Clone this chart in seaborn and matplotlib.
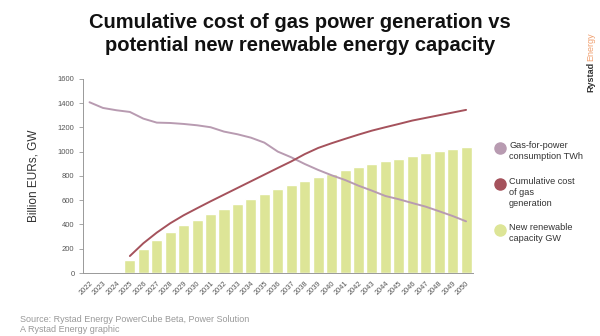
import numpy as np
import pandas as pd
import matplotlib
matplotlib.use("Agg")
import matplotlib.pyplot as plt
from matplotlib.lines import Line2D
import seaborn as sns

years = [str(y) for y in range(2022, 2051)]
renewable_gw = [np.nan, np.nan, np.nan, 110, 198, 272, 338, 393, 434, 484, 525, 569, 610, 649,
                690, 726, 759, 790, 819, 850, 877, 899, 926, 943, 968, 990, 1006, 1023, 1040]
gas_twh = [1408, 1361, 1342, 1328, 1273, 1240, 1237, 1229, 1218, 1202, 1166, 1144, 1116, 1075,
           1001, 954, 899, 850, 806, 767, 720, 679, 635, 608, 577, 547, 509, 470, 426]
cum_cost = [np.nan, np.nan, np.nan, 140, 245, 333, 410, 476, 534, 591, 646, 701, 756, 811,
            866, 920, 980, 1031, 1070, 1106, 1141, 1174, 1202, 1229, 1257, 1279, 1301, 1323, 1345]
y_ticks = [0, 200, 400, 600, 800, 1000, 1200, 1400, 1600]

c_bar = "#dde597"
c_gas = "#b89bb1"
c_cost = "#a5525c"
c_txt = "#555555"

df = pd.DataFrame({"year": years, "renewable": renewable_gw, "gas": gas_twh, "cost": cum_cost})
df["pos"] = np.arange(len(years))

sns.set_theme(style="white")
plt.rcParams["font.family"] = ["Liberation Sans", "DejaVu Sans"]

fig = plt.figure(figsize=(6, 3.36), dpi=100)
ax = fig.add_axes([0.138, 0.1875, 0.650, 0.5775])

sns.barplot(data=df, x="pos", y="renewable", color=c_bar, width=0.82, ax=ax,
            native_scale=True, saturation=1)
sns.lineplot(data=df, x="pos", y="gas", color=c_gas, lw=1.4, ax=ax)
sns.lineplot(data=df, x="pos", y="cost", color=c_cost, lw=1.4, ax=ax)

ax.set_xlim(-0.5, len(years) - 0.5)
ax.set_ylim(0, 1600)
ax.set_yticks(y_ticks)
ax.set_yticklabels([str(t) for t in y_ticks], fontsize=5.5, color=c_txt)
ax.set_xticks(df["pos"])
ax.set_xticklabels(years, rotation=45, fontsize=5.3, color=c_txt, ha="right",
                   rotation_mode="anchor")
ax.set_xticks(np.arange(len(years) + 1) - 0.5, minor=True)
ax.tick_params(axis="x", which="major", length=0, pad=5)
ax.tick_params(axis="x", which="minor", length=3, width=0.6, color="#999999", direction="out")
ax.tick_params(axis="y", which="major", length=3, width=0.6, color="#999999", direction="out", left=True, pad=3)
ax.set_xlabel("")
ax.set_ylabel("Billion EURs, GW", fontsize=8.5, color="#333333", labelpad=13)
for s in ["top", "right"]:
    ax.spines[s].set_visible(False)
for s in ["left", "bottom"]:
    ax.spines[s].set_color("#999999")
    ax.spines[s].set_linewidth(0.7)

fig.text(0.5, 1 - 34 / 336, "Cumulative cost of gas power generation vs\npotential new renewable energy capacity",
         ha="center", va="center", fontsize=14.5, fontweight="bold", color="#111111",
         linespacing=1.25)

legend_items = [(c_gas, "Gas-for-power\nconsumption TWh", 148),
                (c_cost, "Cumulative cost\nof gas\ngeneration", 184),
                (c_bar, "New renewable\ncapacity GW", 230)]
for col, lab, ypx in legend_items:
    yf = 1 - ypx / 336
    fig.add_artist(Line2D([500 / 600], [yf], marker="o", markersize=8, color=col,
                          linestyle="none", transform=fig.transFigure))
    fig.text(509 / 600, yf + 0.02, lab, ha="left", va="top", fontsize=6.6,
             color="#333333", linespacing=1.3)

fig.text(20 / 600, 1 - 319 / 336, "Source: Rystad Energy PowerCube Beta, Power Solution",
         fontsize=6.5, color="#999999", va="center")
fig.text(20 / 600, 1 - 329 / 336, "A Rystad Energy graphic",
         fontsize=6.5, color="#999999", va="center")

# logo: "Rystad" (dark, bold) then "Energy" (orange) rotated, stacked upward
t1 = fig.text(591 / 600, 1 - 92 / 336, "Rystad", rotation=90, fontsize=6.5, fontweight="bold",
              color="#333333", ha="center", va="bottom")
fig.canvas.draw()
bb = t1.get_window_extent(renderer=fig.canvas.get_renderer())
top_f = fig.transFigure.inverted().transform((bb.x0, bb.y1))[1]
fig.text(591 / 600, top_f + 0.002, "Energy", rotation=90, fontsize=6.5,
         color="#f0a070", ha="center", va="bottom")

fig.savefig("out.png", dpi=100)
